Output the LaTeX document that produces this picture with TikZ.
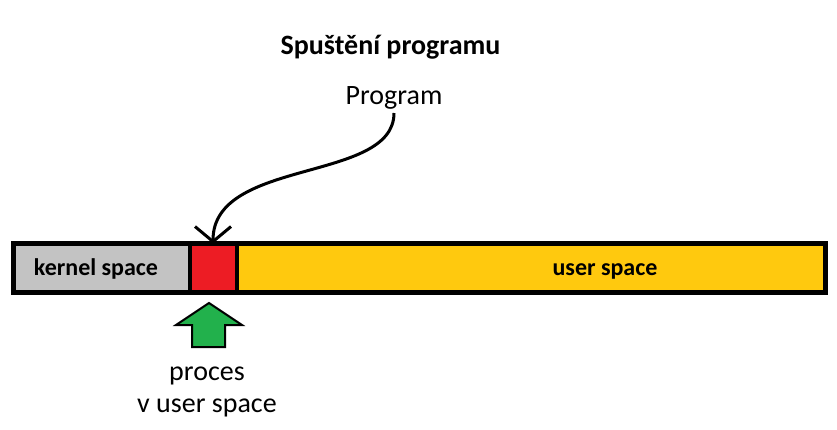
\documentclass[tikz,border=0pt]{standalone}
\usepackage{fontspec}
\setmainfont{Carlito}
\usepackage{xcolor}
\usetikzlibrary{positioning, arrows.meta}

\definecolor{kgray}{HTML}{C3C3C3}
\definecolor{pred}{HTML}{ED1C24}
\definecolor{uyellow}{HTML}{FFC90E}
\definecolor{pgreen}{HTML}{22B14C}

\tikzset{
    seg/.style={draw=black, line width=4pt, inner sep=0pt, outer sep=0pt,
        minimum height=49pt},
    segtext/.style={anchor=base, font=\fontsize{24}{28}\selectfont\bfseries},
    plain/.style={font=\fontsize{28}{32}\selectfont, inner sep=0pt}
}

\begin{document}
\begin{tikzpicture}[x=1pt, y=-1pt]
    \useasboundingbox (0,0) rectangle (837,430);

    % Title and program label
    \node[anchor=base, font=\fontsize{28}{32}\selectfont\bfseries] (title) at (390.5,55) {Spuštění programu};
    \node[plain, anchor=base] (prog) at (394,105) {Program};

    % Memory bar - kernel, process, user
    \node[seg, fill=kgray, minimum width=176pt] (kernel) at (101.5,268) {};
    \node[seg, fill=pred, minimum width=47pt] (proc) at (213,268) {};
    \node[seg, fill=uyellow, minimum width=589pt] (user) at (531,268) {};
    \draw[line width=5pt] (kernel.north west) rectangle (user.south east);
    \node[segtext] (ktext) at (96,275) {kernel space};
    \node[segtext] (utext) at (605,275) {user space};

    % Program loaded into the process
    \draw[line width=3pt, -{Straight Barb[length=15pt, width=36pt]}]
        ([yshift=-3pt]prog.south) .. controls +(0,70) and +(0,-86) .. (proc.north);

    % Green arrow and its label
    \draw[fill=pgreen, line width=2pt, line join=miter]
        (192,347) -- (192,325) -- (176,325) -- (209,303) -- (242,325)
        -- (225,325) -- (225,347) -- cycle;
    \node[plain, align=center, anchor=base] (ptext) at (207,412) {proces\\v user space};
\end{tikzpicture}
\end{document}
